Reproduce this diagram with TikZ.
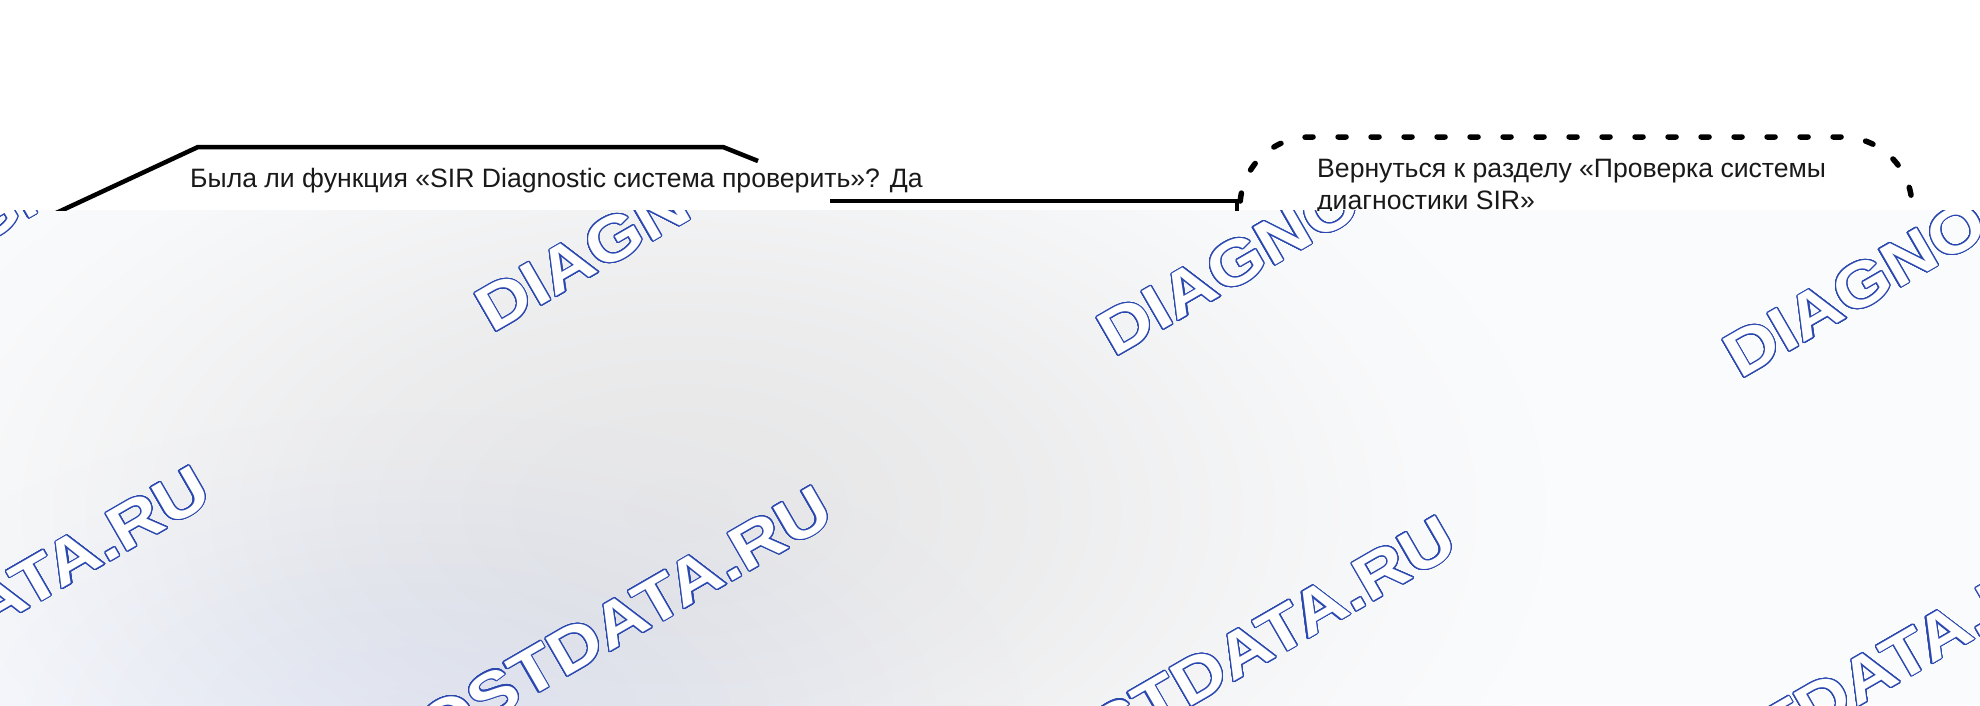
\documentclass[tikz,border=0pt]{standalone}
\usepackage{fontspec}
\setmainfont{Liberation Sans}
\usepackage[copies]{contour}
\usetikzlibrary{arrows.meta}

\definecolor{wmblue}{HTML}{2A48B0}
\definecolor{bgfill}{HTML}{FAFBFC}
\definecolor{wmgray}{HTML}{E7E7E8}
\definecolor{wmtint}{HTML}{F1F4FE}
\pgfdeclareradialshading{blob}{\pgfpoint{0bp}{0bp}}{color(0bp)=(wmgray); color(5bp)=(wmgray!92!bgfill); color(10bp)=(wmgray!71!bgfill); color(15bp)=(wmgray!41!bgfill); color(20bp)=(wmgray!13!bgfill); color(25bp)=(bgfill); color(50bp)=(bgfill)}
\pgfdeclareradialshading{tint}{\pgfpoint{0bp}{0bp}}{color(0bp)=(wmtint); color(5bp)=(wmtint!92!white); color(10bp)=(wmtint!71!white); color(15bp)=(wmtint!41!white); color(20bp)=(wmtint!13!white); color(25bp)=(white); color(50bp)=(white)}
\contourlength{1pt}
\contournumber{32}

\begin{document}
\begin{tikzpicture}[x=1pt, y=-1pt]
\tikzstyle{txt} = [inner sep=0pt, text=black!90, font=\fontsize{26.6}{32}\selectfont]
\tikzstyle{wm} = [inner sep=0pt, anchor=base west, rotate=30, text=white, font=\bfseries\fontsize{63}{63}\selectfont]
\tikzstyle{shapeline} = [line width=4.5pt, line join=round]
\tikzstyle{retline} = [line width=5.5pt, line cap=round, dash pattern=on 8pt off 25pt, rounded corners=70pt]
\useasboundingbox (0,0) rectangle (1980,705);
\clip (0,0) rectangle (1980,705);

% background with watermark
\fill[bgfill] (0,0) rectangle (1980,705);
\shade[shading=blob] (680,510) ellipse [x radius=900pt, y radius=520pt];
\begin{scope}[blend mode=multiply]
\shade[shading=tint] (420,720) ellipse [x radius=650pt, y radius=330pt];
\end{scope}
\foreach \wx/\wy in {-132/311, 492/334, 1114/358, 1740/380, -390/850, 232/870, 856/900, 1480/925}
\node[wm] at (\wx,\wy) {\scalebox{1.15}[1]{\contour{wmblue}{DIAGNOSTDATA.RU}}};

% diagram strip
\fill[white] (0,0) rectangle (1980,210);
\begin{scope}
\clip (0,0) rectangle (1980,210);
\node[txt, anchor=base west] (ask) at (190,187) {Была ли функция «SIR Diagnostic система проверить»? Да};
\node[txt, anchor=north west, align=left] (back) at (1317,159) {Вернуться к разделу «Проверка системы\\диагностики SIR»};
\coordinate (askR) at (830,201);
\coordinate (backL) at (1237,260);

\draw [shapeline] (54,214) -- (198,147) -- (723,147) -- (758,161);
\draw [retline] (1240,300) -- (1240,137) -- (1912,137) -- (1912,300);
\draw [-{Latex[length=14pt,width=14pt]}][line width=4.5pt] (askR) -| (backL);
\end{scope}

\end{tikzpicture}
\end{document}
